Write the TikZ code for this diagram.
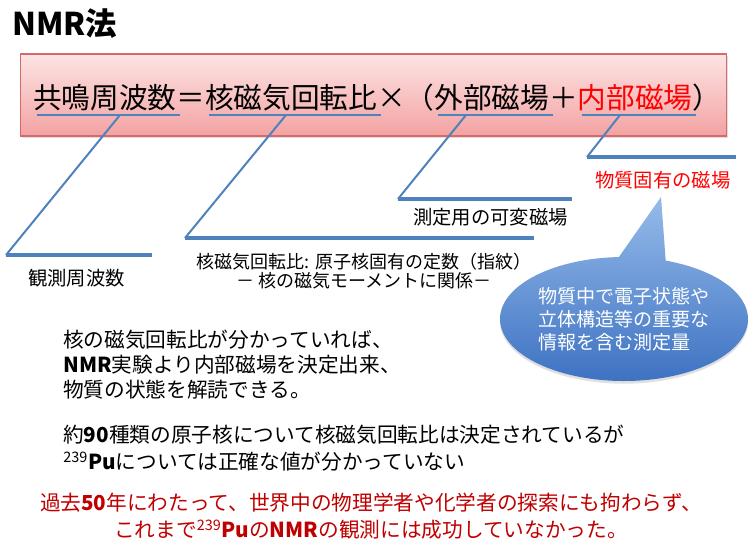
\documentclass[tikz,border=0pt]{standalone}
\usepackage{fontspec}
\setmainfont{Noto Sans CJK JP}
\usetikzlibrary{positioning,shapes.callouts,shadows}
\definecolor{LineBlue}{HTML}{4F81BD}
\definecolor{BoxTop}{HTML}{FDE4E4}
\definecolor{BoxBot}{HTML}{F3A2A2}
\definecolor{BoxEdge}{HTML}{D46A6A}
\definecolor{BubTop}{HTML}{96BBEA}
\definecolor{BubBot}{HTML}{3D72C2}
\definecolor{PureRed}{HTML}{FF0000}
\definecolor{DeepRed}{HTML}{C00000}

\begin{document}
\begin{tikzpicture}[
  x=0.75pt, y=-0.75pt,
  formbox/.style={draw=BoxEdge, line width=0.8pt, top color=BoxTop, bottom color=BoxBot,
                  minimum width=530pt, minimum height=61.5pt, inner sep=0pt,
                  drop shadow={opacity=0.25, shadow xshift=1pt, shadow yshift=-1.5pt}},
  part/.style={inner sep=0pt, outer sep=0pt, font=\fontsize{21.5}{26}\selectfont},
  uline/.style={draw=LineBlue, line width=1.5pt},
  lead/.style={draw=LineBlue, line width=1.5pt},
  shelf/.style={draw=LineBlue, line width=3pt},
  tag/.style={anchor=west, inner sep=0pt, font=\fontsize{14.5}{16}\selectfont},
  para/.style={anchor=west, align=left, inner sep=0pt, font=\fontsize{15.5}{18.8}\selectfont},
  bubble/.style={ellipse callout, callout pointer arc=22, minimum width=186pt, minimum height=93pt,
                 inner sep=0pt, top color=BubTop, bottom color=BubBot, text=white, align=left,
                 font=\fontsize{14.3}{17.25}\selectfont,
                 drop shadow={opacity=0.25, shadow xshift=0pt, shadow yshift=-2pt}}
]
  \useasboundingbox (0,0) rectangle (753,547);

  %% Title
  \node[anchor=west, inner sep=0pt, font=\bfseries\fontsize{23.5}{27}\selectfont] (title) at (12,24) {NMR法};

  %% Formula box
  \node[formbox] (box) at (373.5,95) {};
  \node[part, anchor=base west] (f1) at (33,108) {共鳴周波数};
  \node[part, base right=0pt of f1] (f2) {＝};
  \node[part, base right=0pt of f2] (f3) {核磁気回転比};
  \node[part, base right=0pt of f3] (f4) {×（};
  \node[part, base right=0pt of f4] (f5) {外部磁場};
  \node[part, base right=0pt of f5] (f6) {＋};
  \node[part, base right=0pt of f6, text=PureRed] (f7) {内部磁場};
  \node[part, base right=0pt of f7] (f8) {）};

  \foreach \p in {f1,f3,f5,f7}
    \draw[uline] ([xshift=3pt,yshift=-5pt]\p.base west) -- ([xshift=3pt,yshift=-5pt]\p.base east);

  %% Leader lines
  \coordinate (k1) at (120,115);  \coordinate (b1) at (6,255);   \coordinate (e1) at (152,255);
  \coordinate (k2) at (286,115);  \coordinate (b2) at (185,238); \coordinate (e2) at (534,238);
  \coordinate (k3) at (466,115);  \coordinate (b3) at (398,199); \coordinate (e3) at (572,199);
  \coordinate (k4) at (620,115);  \coordinate (b4) at (587,157); \coordinate (e4) at (736,157);
  \foreach \i in {1,...,4} {
    \draw[lead] (k\i) -- (b\i);
    \draw[shelf] (b\i) -- (e\i);
  }

  %% Labels under the leaders
  \node[tag] (obs) at (28,278) {観測周波数};
  \node[tag, anchor=center, align=center, font=\fontsize{13.5}{14.5}\selectfont] (gyro) at (364,271)
    {核磁気回転比: 原子核固有の定数（指紋）\\－ 核の磁気モーメントに関係－};
  \node[tag] (ext) at (413,217) {測定用の可変磁場};
  \node[tag, text=PureRed] (int) at (595,180) {物質固有の磁場};

  %% Callout
  \coordinate (tip) at (661,197);
  \node[bubble, callout absolute pointer={(tip)}] (bub) at (624,319)
    {物質中で電子状態や\\立体構造等の重要な\\情報を含む測定量};

  %% Body text
  \node[para] (know) at (63,365)
    {核の磁気回転比が分かっていれば、\\\textbf{NMR}実験より内部磁場を決定出来、\\物質の状態を解読できる。};
  \node[para, font=\fontsize{15.5}{20}\selectfont] (known) at (63,448)
    {約\textbf{90}種類の原子核について核磁気回転比は決定されているが\\\textsuperscript{239}\textbf{Pu}については正確な値が分かっていない};
  \node[para, anchor=center, align=center, text=DeepRed, font=\fontsize{15.5}{20}\selectfont] (hist) at (371,516)
    {過去\textbf{50}年にわたって、世界中の物理学者や化学者の探索にも拘わらず、\\これまで\textsuperscript{239}\textbf{Pu}の\textbf{NMR}の観測には成功していなかった。};
\end{tikzpicture}
\end{document}
